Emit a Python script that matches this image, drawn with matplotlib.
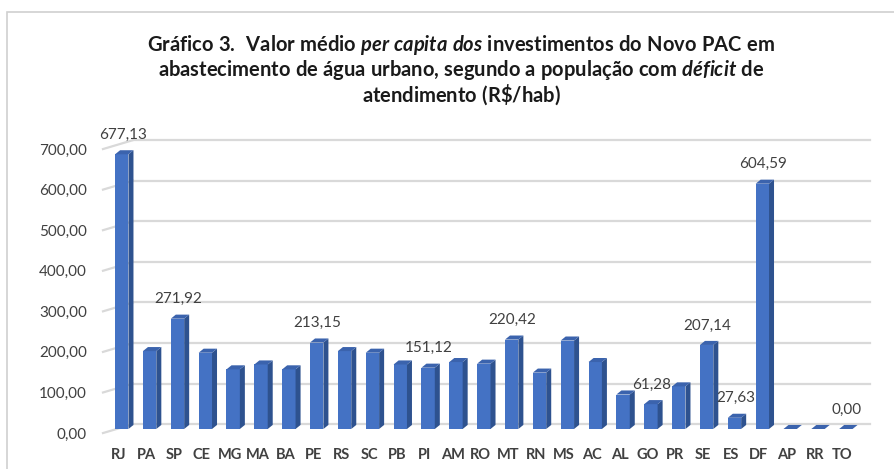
import matplotlib
matplotlib.use("Agg")
import matplotlib.pyplot as plt
from matplotlib.patches import Polygon, Rectangle
from matplotlib.transforms import ScaledTranslation

# data
states = ["RJ", "PA", "SP", "CE", "MG", "MA", "BA", "PE", "RS", "SC", "PB", "PI", "AM", "RO",
          "MT", "RN", "MS", "AC", "AL", "GO", "PR", "SE", "ES", "DF", "AP", "RR", "TO"]
values = [677.13, 192, 271.92, 188, 147, 159, 147, 213.15, 192, 188, 159, 151.12, 165, 161,
          220.42, 139, 218, 165, 85, 61.28, 105, 207.14, 27.63, 604.59, 0, 0, 0.00]
labelled = ["RJ", "SP", "PE", "PI", "MT", "GO", "SE", "ES", "DF", "TO"]
y_ticks = [0, 100, 200, 300, 400, 500, 600, 700]

FRONT = "#4472C4"
SIDE = "#2E528F"
TOP = "#3B63AD"
GRID = "#D9D9D9"
TEXT = "#404040"

plt.rcParams["font.family"] = ["Lato", "DejaVu Sans"]
plt.rcParams["mathtext.fontset"] = "custom"
plt.rcParams["mathtext.rm"] = "Lato:bold"
plt.rcParams["mathtext.it"] = "Lato:bold:italic"

W, H = 894, 469
fig = plt.figure(figsize=(W / 100, H / 100), dpi=100)

# axes: x=100..870 px, y value 0 at px 429, 700 at px 145
left, right = 100, 870
bottom, top = 429, 145
ax = fig.add_axes([left / W, 1 - bottom / H, (right - left) / W, (bottom - top) / H])
px_per_x = 27.85
x0 = (left - 124) / px_per_x
ax.set_xlim(x0, x0 + (right - left) / px_per_x)
ax.set_ylim(0, 700)
for s in ax.spines.values():
    s.set_visible(False)

# back-wall gridlines with perspective stub on the left
wall_x = (133 - 124) / px_per_x
front_x = (103 - 124) / px_per_x
for g in y_ticks:
    ax.plot([wall_x, x0 + (right - left) / px_per_x], [g + 12, g + 12], color=GRID, lw=1.6,
            zorder=1, clip_on=False)
    ax.plot([front_x, wall_x], [g - 10, g + 12], color=GRID, lw=1.6, zorder=1, clip_on=False)

# pseudo-3D columns
w, dx, dy = 0.48, 0.18, 10
for i, v in enumerate(values):
    xl = i - 0.32
    ax.bar(xl, v, width=w, align="edge", color=FRONT, zorder=3)
    ax.add_patch(Polygon([(xl + w, 0), (xl + w + dx, dy), (xl + w + dx, v + dy), (xl + w, v)],
                         closed=True, facecolor=SIDE, edgecolor="none", zorder=3))
    ax.add_patch(Polygon([(xl, v), (xl + w, v), (xl + w + dx, v + dy), (xl + dx, v + dy)],
                         closed=True, facecolor=TOP, edgecolor="none", zorder=4))

for i, (st, v) in enumerate(zip(states, values)):
    if st in labelled:
        ax.annotate(f"{v:.2f}".replace(".", ","),
                    xy=(i - 0.05, v), xytext=(0, 9), textcoords="offset points",
                    ha="center", va="bottom", fontsize=11, color=TEXT, zorder=5)

ax.set_xticks([i - 0.2 for i in range(len(states))])
ax.set_xticklabels(states, fontsize=10.5, fontweight="bold", color=TEXT)
ax.tick_params(axis="x", length=0, pad=14)
ax.set_yticks(y_ticks)
ax.set_yticklabels([f"{t:.2f}".replace(".", ",") for t in y_ticks], fontsize=11, color=TEXT)
ax.tick_params(axis="y", length=0, pad=9.5)
shift = ScaledTranslation(0, -4 / 100, fig.dpi_scale_trans)
for lab in ax.get_yticklabels():
    lab.set_transform(lab.get_transform() + shift)

# title with italic pieces
title_lines = [
    r"$\mathrm{Gráfico\ 3.\,\ Valor\ médio\ }\mathit{per\ capita\ dos}\mathrm{\ investimentos\ do\ Novo\ PAC\ em}$",
    r"$\mathrm{abastecimento\ de\ água\ urbano{,}\ segundo\ a\ população\ com\ }\mathit{déficit}\mathrm{\ de}$",
    r"$\mathrm{atendimento\ (R\$/hab)}$",
]
for k, line in enumerate(title_lines):
    fig.text(461 / W, 1 - (45 + 25 * k) / H, line, ha="center", va="center", fontsize=14.5,
             color="#1A1A1A")

# chart border
fig.add_artist(Rectangle((7 / W, -0.05), 1.05, 1 - 12 / H + 0.05, transform=fig.transFigure,
                         fill=False, edgecolor="#D0D0D0", lw=1.2))

fig.savefig("out.png", dpi=100)
